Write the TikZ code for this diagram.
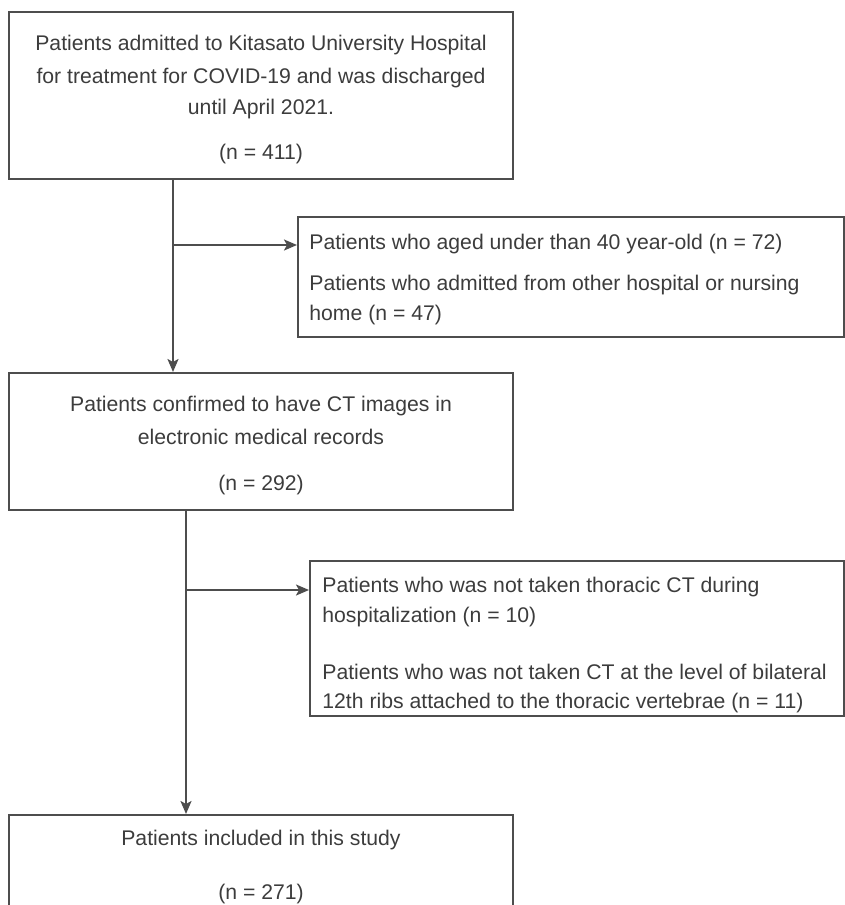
\documentclass[tikz,border=0pt]{standalone}
\usepackage{fontspec}
\setmainfont{Liberation Sans}
\usetikzlibrary{arrows.meta}
\definecolor{linec}{RGB}{77,77,77}
\definecolor{textc}{RGB}{60,60,60}
\tikzset{
  boxnode/.style={draw=linec, line width=1pt, rectangle, inner sep=0pt},
  txt/.style={inner sep=0pt, text=textc, font=\fontsize{10.6}{16}\selectfont, text height=7.6pt, text depth=0pt},
  conn/.style={draw=linec, line width=1pt},
  arr/.style={conn, -{Stealth[length=6.5pt,width=5.5pt,inset=1.5pt]}}
}
\begin{document}
\begin{tikzpicture}[x=0.5pt,y=-0.5pt]
\useasboundingbox (0,0) rectangle (845,905);
\clip (0,0) rectangle (845,905);
% boxes
\node[boxnode, minimum width=252pt, minimum height=83.5pt] (b1) at (261,95.5) {};
\node[boxnode, minimum width=273pt, minimum height=60pt] (s1) at (571,277) {};
\node[boxnode, minimum width=252pt, minimum height=68.5pt] (b2) at (261,441.5) {};
\node[boxnode, minimum width=267pt, minimum height=77.5pt] (s2) at (577,638.5) {};
\node[boxnode, minimum width=252pt, minimum height=55pt] (b3) at (261,870) {};
% texts
\node[txt] (t1a) at (261,43) {Patients admitted to Kitasato University Hospital};
\node[txt] (t1b) at (261,76) {for treatment for COVID-19 and was discharged};
\node[txt] (t1c) at (261,107) {until April 2021.};
\node[txt] (t1d) at (261,152) {(n = 411)};
\node[txt, anchor=west] (s1a) at (309,242) {Patients who aged under than 40 year-old (n = 72)};
\node[txt, anchor=west] (s1b) at (309,283) {Patients who admitted from other hospital or nursing};
\node[txt, anchor=west] (s1c) at (309,313) {home (n = 47)};
\node[txt] (t2a) at (261,404) {Patients confirmed to have CT images in};
\node[txt] (t2b) at (261,437) {electronic medical records};
\node[txt] (t2c) at (261,483) {(n = 292)};
\node[txt, anchor=west] (s2a) at (322,585) {Patients who was not taken thoracic CT during};
\node[txt, anchor=west] (s2b) at (322,615) {hospitalization (n = 10)};
\node[txt, anchor=west] (s2c) at (322,672) {Patients who was not taken CT at the level of bilateral};
\node[txt, anchor=west] (s2d) at (322,701) {12th ribs attached to the thoracic vertebrae (n = 11)};
\node[txt] (t3a) at (261,838) {Patients included in this study};
\node[txt] (t3b) at (261,892) {(n = 271)};
% connectors
\coordinate (j1) at (173,245);
\coordinate (j2) at (186,590);
\draw[arr] (b1.south -| j1) -- (b2.north -| j1);
\draw[arr] (j1) -- (j1 -| s1.west);
\draw[arr] (b2.south -| j2) -- (b3.north -| j2);
\draw[arr] (j2) -- (j2 -| s2.west);
\end{tikzpicture}
\end{document}
